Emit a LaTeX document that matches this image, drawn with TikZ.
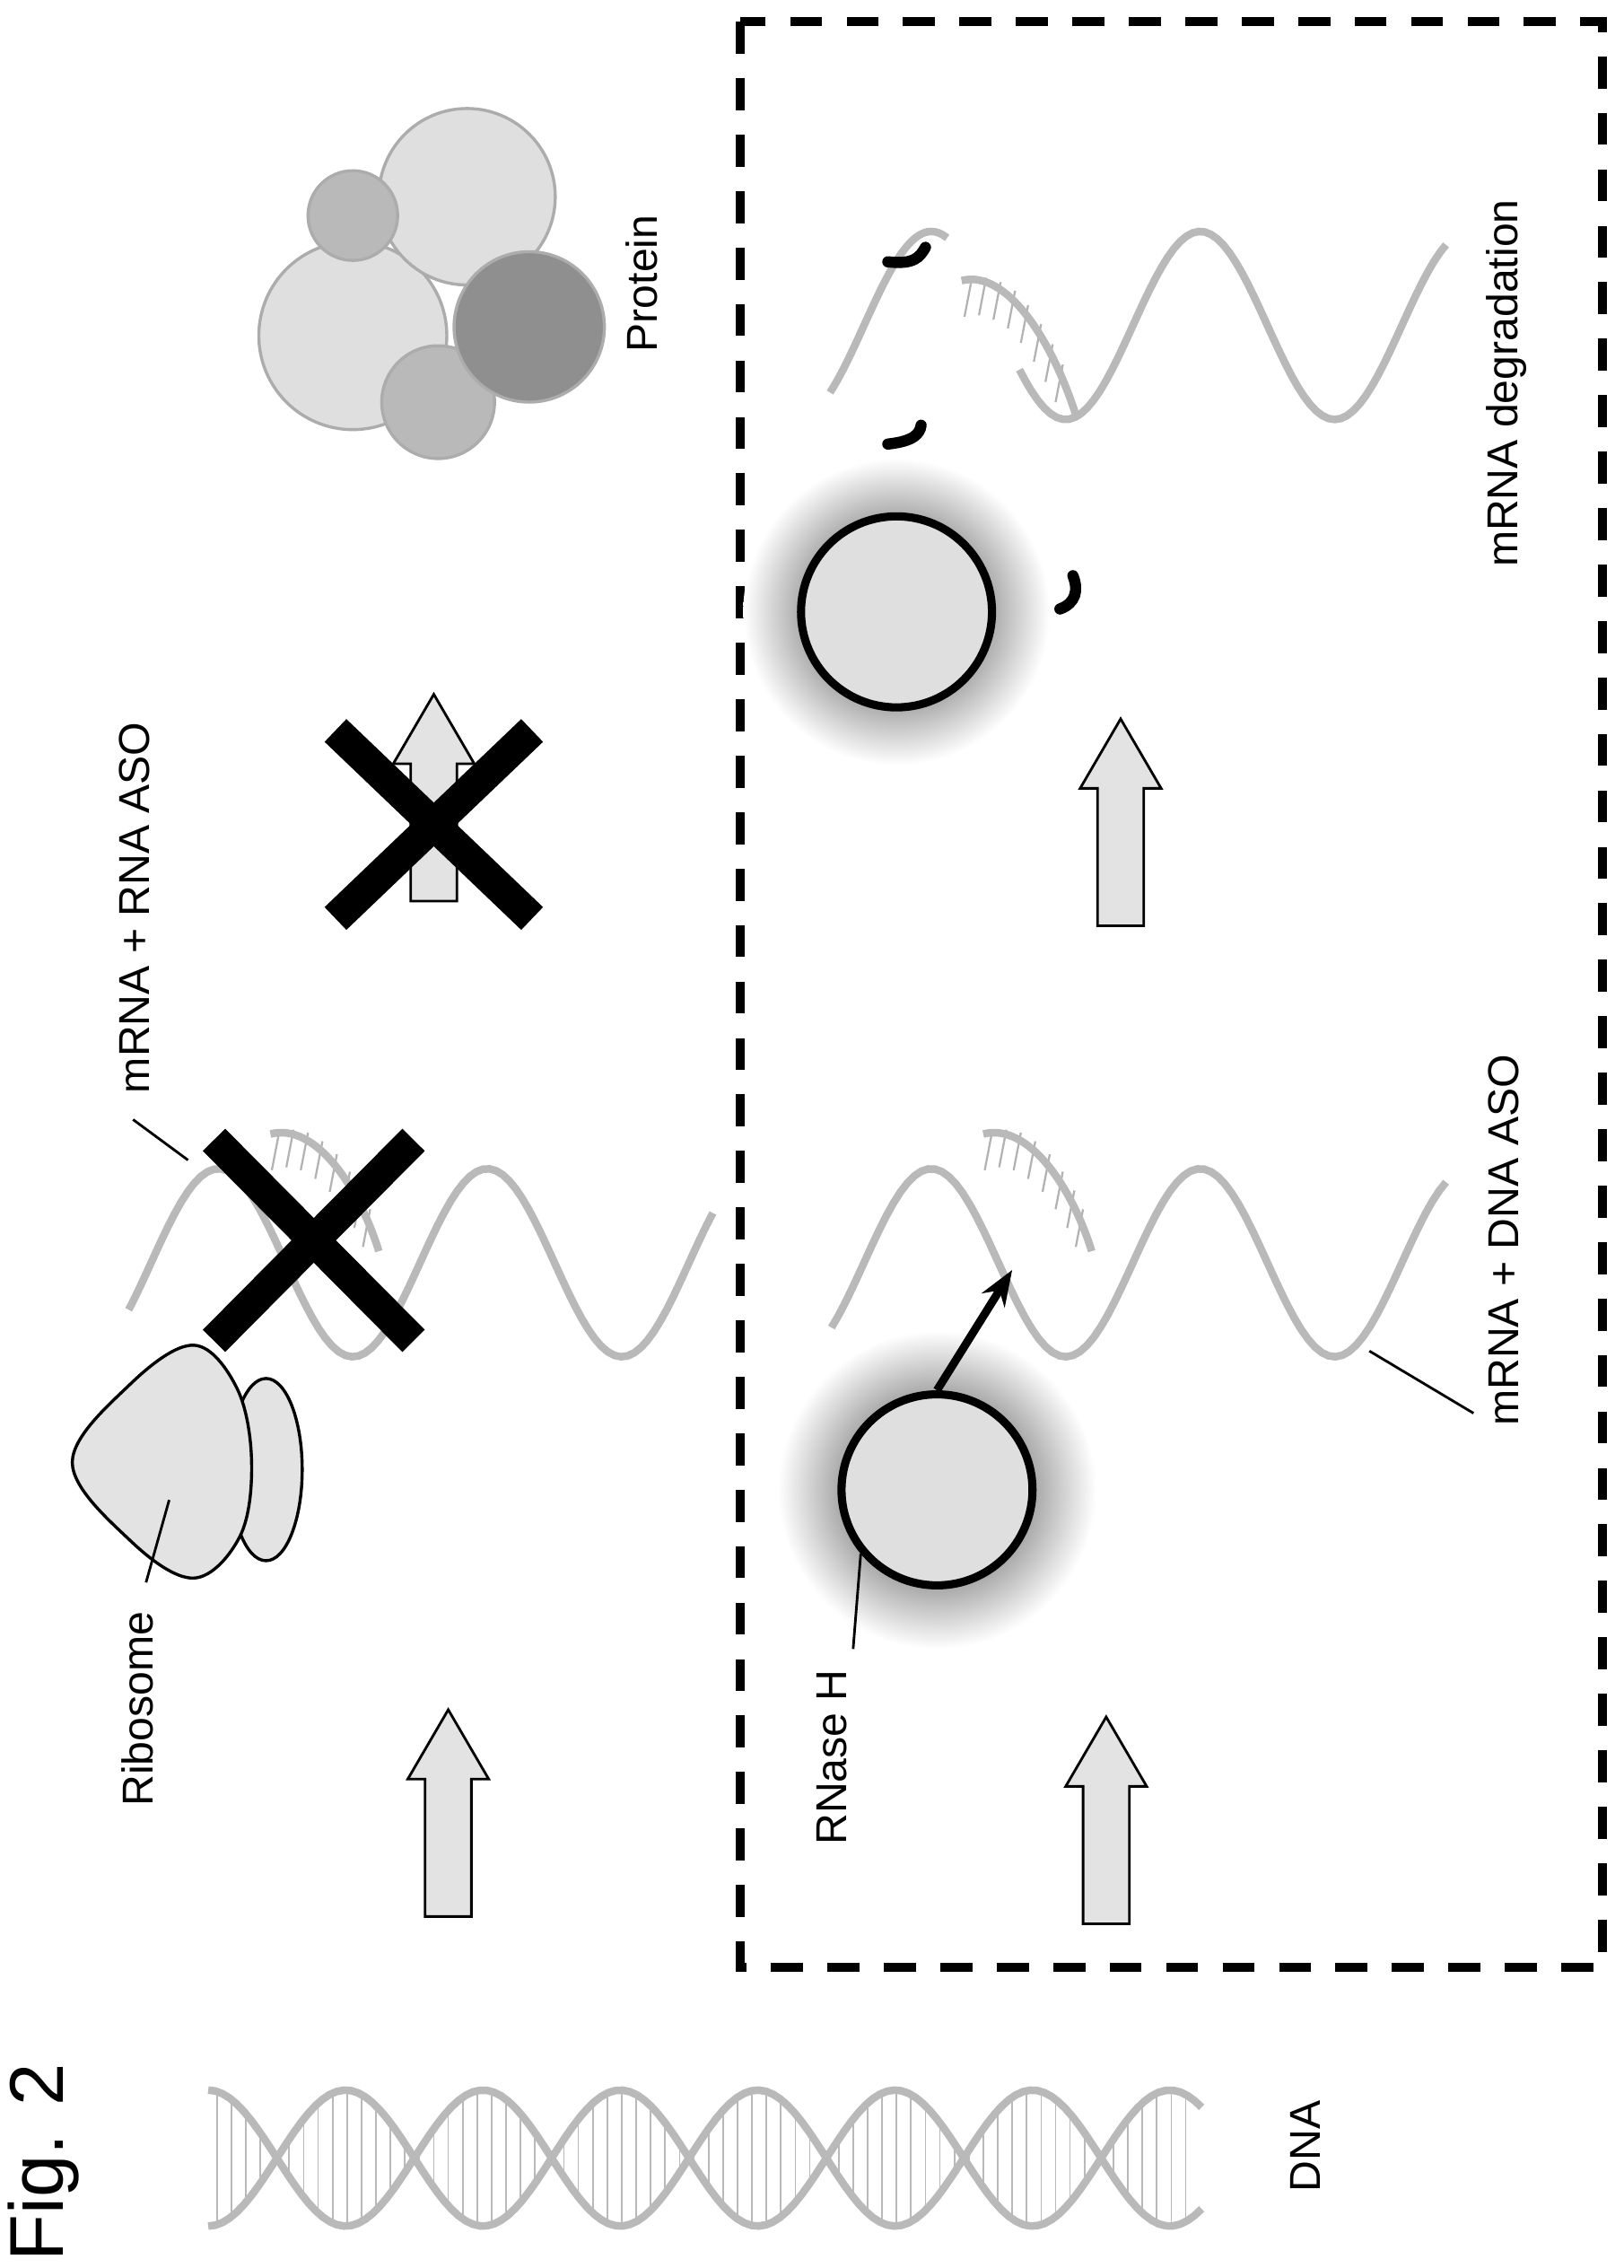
\documentclass[tikz,border=0pt]{standalone}
\usepackage{fontspec}
\setmainfont{Liberation Sans}
\usetikzlibrary{arrows.meta}

\pgfdeclareradialshading{glow}{\pgfpoint{0bp}{0bp}}{color(0bp)=(gray!70);
  color(15bp)=(gray!70); color(25bp)=(white); color(50bp)=(white)}

\tikzset{
  strand/.style={draw=gray!55, line width=1.5pt},
  base/.style={draw=gray!55, line width=0.3pt},
  hatch/.style={draw=gray!60, line width=0.4pt},
  cross/.style={line width=6.2pt, black},
  label/.style={rotate=90, font=\fontsize{8.5}{10}\selectfont, inner sep=1pt},
  leader/.style={line width=0.5pt},
  block/.style={fill=gray!22, draw=black, line width=0.5pt},
  enzyme/.style={fill=gray!25, draw=black, line width=1.6pt},
  halo/.style={shading=glow},
  sub/.style={draw=gray!65, line width=0.6pt},
  frag/.style={line width=2.2pt, line cap=round},
  blockarrow/.pic={\path[block] (-16,0) -- (-16,-95) -- (-28,-95) -- (0,-143)
      -- (28,-95) -- (16,-95) -- (16,0) -- cycle;}
}

\begin{document}
\begin{tikzpicture}[x=0.01cm, y=-0.01cm]
  \useasboundingbox (0,0) rectangle (1123,1568);

  % title
  \node[label, font=\fontsize{15}{17}\selectfont] (fig) at (30,1495) {Fig. 2};

  % DNA
  \foreach \x in {150,160,...,825}
    \draw[base] (\x,{1492-47*cos((\x-144)*1.8947)}) -- (\x,{1492+47*cos((\x-144)*1.8947)});
  \draw[strand] plot[domain=144:831, samples=140] (\x,{1492-47*cos((\x-144)*1.8947)});
  \draw[strand] plot[domain=144:831, samples=140] (\x,{1492+47*cos((\x-144)*1.8947)});
  \node[label] (dna) at (903,1484) {DNA};

  % arrows
  \pic at (310,1325) {blockarrow};
  \pic at (300,623) {blockarrow};
  \pic at (765,1330) {blockarrow};
  \pic at (775,640) {blockarrow};

  % ribosome
  \draw[sub, draw=black, fill=gray!22] (184,1016) ellipse (25 and 63);
  \draw[sub, draw=black, fill=gray!22] plot[smooth cycle, tension=0.6] coordinates
    {(50,1011) (90,957) (134,930) (164,960) (174,1011) (166,1062) (134,1091) (90,1065)};
  \node[label, anchor=east] (ribo) at (95,1110) {Ribosome};
  \coordinate (ribotip) at (117,1037);
  \draw[leader] (101,1094) -- (ribotip);

  % mRNA + RNA ASO
  \draw[strand] plot[domain=89:493, samples=90] (\x,{873-65*sin((\x-104.5)*1.9355)});
  \foreach \dx/\dy in {193/783,203/781,213/783,223/789,233/798,242/810,250/823,256/836}
    \draw[hatch] (\dx,\dy) -- ++(-5,26);
  \draw[strand] (187,784) .. controls (218,776) and (248,820) .. (262,865);
  \draw[cross] (148,788) -- (286,927);
  \draw[cross] (148,927) -- (286,788);
  \node[label, anchor=west] (rnaaso) at (93,760) {mRNA + RNA ASO};
  \coordinate (rnatip) at (130,802);
  \draw[leader] (92,774) -- (rnatip);

  % blocked translation
  \draw[cross] (232,505) -- (368,635);
  \draw[cross] (232,635) -- (368,505);

  % protein
  \draw[sub, fill=gray!25] (244,232) circle (65);
  \draw[sub, fill=gray!25] (323,136) circle (61);
  \draw[sub, fill=gray!55] (244,149) circle (31);
  \draw[sub, fill=gray!55] (303,278) circle (39);
  \draw[sub, fill=gray!88] (366,226) circle (52);
  \node[label] (protein) at (444,196) {Protein};

  % RNase H box
  \draw[line width=1.8pt, dash pattern=on 6.3pt off 4.8pt] (512,15) rectangle (1108,1360);

  % RNase H + mRNA + DNA ASO
  \shade[halo] (648,1030) circle (110);
  \node[enzyme, circle, minimum size=1.32cm] (rnaseh) at (648,1030) {};
  \node[label, anchor=east] (rnaselabel) at (575,1150) {RNase H};
  \draw[leader] (590,1140) -- (rnaseh.220);
  \draw[strand] plot[domain=575:1000, samples=90] (\x,{873-65*sin((\x-597.5)*1.9355)});
  \foreach \dx/\dy in {686/783,696/781,706/783,716/789,726/798,735/810,743/823,749/836}
    \draw[hatch] (\dx,\dy) -- ++(-5,26);
  \draw[strand] (680,784) .. controls (711,776) and (741,820) .. (755,865);
  \coordinate (asotip) at (700,878);
  \draw[-{Stealth[length=7pt]}, line width=1.6pt] (rnaseh.north) -- (asotip);
  \node[label, anchor=west] (dnaaso) at (1040,990) {mRNA + DNA ASO};
  \coordinate (dnatip) at (947,934);
  \draw[leader] (dnatip) -- (1019,977);

  % degradation
  \shade[halo] (620,423) circle (106);
  \node[enzyme, circle, minimum size=1.32cm] (rnasedeg) at (620,423) {};
  \draw[strand] plot[domain=574:655, samples=30] (\x,{225-65*sin((\x-597.5)*1.9355)});
  \draw[strand] plot[domain=705:1000, samples=70] (\x,{225-65*sin((\x-597.5)*1.9355)});
  \foreach \dx/\dy in {672/193,682/192,692/195,702/201,711/211,720/224,728/238,735/252}
    \draw[hatch] (\dx,\dy) -- ++(-5,26);
  \draw[strand] (665,194) .. controls (696,186) and (728,235) .. (745,290);
  \draw[frag] (614,181) .. controls (632,183) and (636,178) .. (640,171);
  \draw[frag] (614,307) .. controls (632,305) and (636,300) .. (637,294);
  \draw[frag] (733,421) .. controls (744,417) and (746,408) .. (742,398);
  \node[label] (deg) at (1042,265) {mRNA degradation};
\end{tikzpicture}
\end{document}
